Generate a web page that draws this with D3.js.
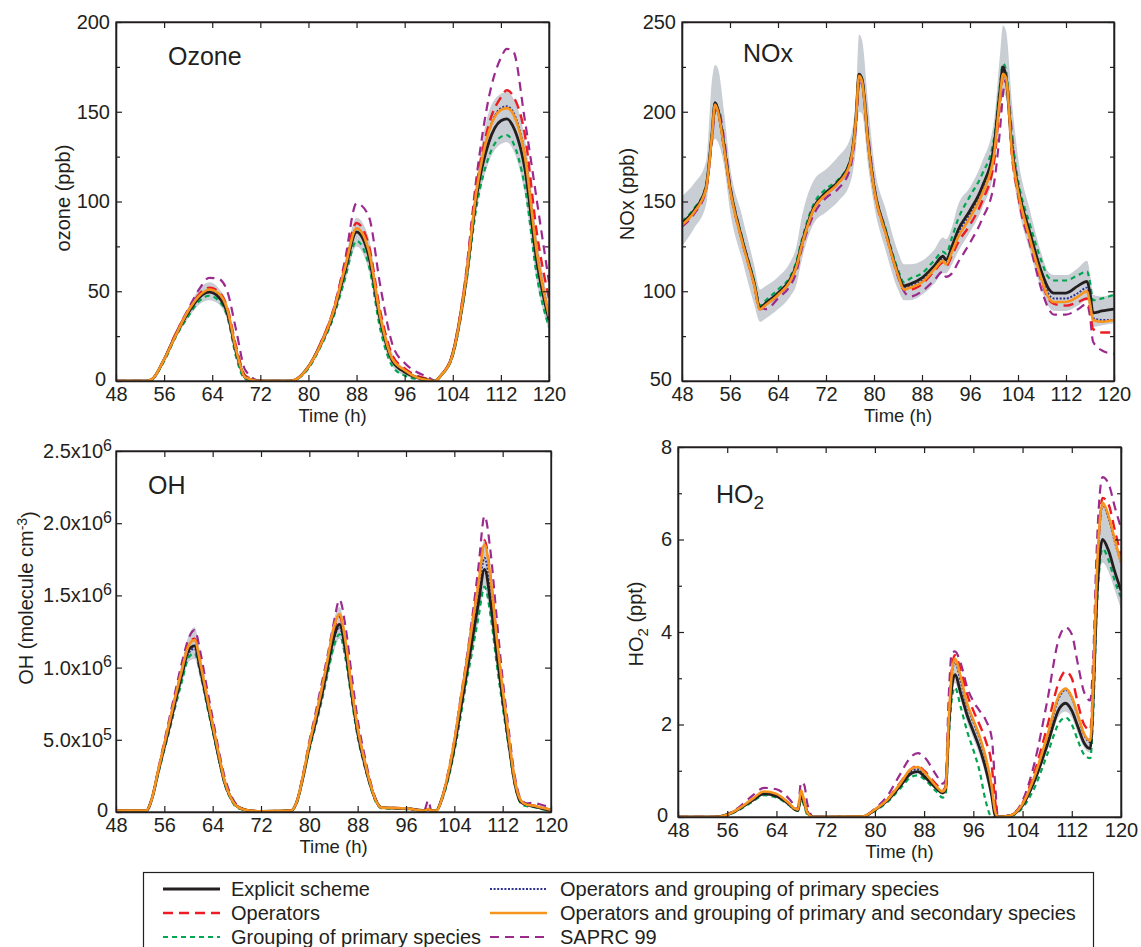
<!DOCTYPE html>
<html>
<head>
<meta charset="utf-8">
<script src="https://cdnjs.cloudflare.com/ajax/libs/d3/7.8.5/d3.min.js"></script>
<style>
  body { margin: 0; background: #fff; }
  svg { font-family: "Liberation Sans", Arial, sans-serif; }
</style>
</head>
<body>
<script>
// ---------------- data ----------------
var xTicks = [48, 56, 64, 72, 80, 88, 96, 104, 112, 120];

// Ozone (ppb)
var o3Times = [48,53,54,56,58,60,62,63.5,65,66.5, 68,69.5,72,77,78,80,82,84,86,88, 90,92,94,96,98,100,101,102,104,106, 108,110,112,113,114,116,118,120];
var o3Explicit = [0,0,1,12,26,38,47,49.5,47,38, 16,2,0,0,1,8,20,36,60,83, 70,33,11,5,2,0.5,0,3,15,51, 104,133,145,146,142,118,66,34];
var o3Operators = [0,0,1,12,27,39,49,52,50,41, 19,3,0,0,1,8,21,38,64,88, 76,38,14,7,3,1,0,3,16,54, 110,143,158,162,159,137,82,46];
var o3Grouping = [0,0,1,11,25,36,45,47.5,45,36, 13,1,0,0,1,7,19,34,56,78, 65,28,8,3,1,0,0,3,14,49, 98,125,136,137,133,108,58,30];
var o3OpGroup = [0,0,1,12,26,38,48,50,48,39, 17,2,0,0,1,8,20,37,62,85, 73,35,12,6,2,0.5,0,3,15,52, 107,139,152,153,150,126,72,37];
var o3OpGroupSec = [0,0,1,12,26,39,48,51,49,40, 17,2,0,0,1,8,20,37,62,85, 73,35,12,6,2,0.5,0,3,15,52, 107,139,151,152,149,125,71,36];
var o3Saprc = [0,0,1,12,27,40,52,57.5,57,50, 28,6,0,0,1,8,21,38,66,99, 92,52,20,10,5,2,0,3,16,55, 115,158,180,185,184,145,100,55];
var o3BandLo = [0,0,1,11,24,35,43,45,43,34, 12,1,0,0,1,7,18,33,54,75, 62,27,8,3,1,0,0,3,14,47, 96,122,132,133,129,104,55,28];
var o3BandHi = [0,0,1,13,28,41,52,55,52,43, 20,3,0,0,1,9,22,40,66,91, 80,40,15,7,3,1,0,3,17,56, 114,150,160,161,158,135,80,42];

// NOx (ppb)
var noxTimes = [48,50,52,53,53.5,54,55,56,58,60, 61,62,64,66,67,68,70,72,74,76, 77,77.5,78,79,80,82,84,85,86,88, 90,91.5,92,93,94,96,98,100,101,101.5, 102,103,104,106,108,109,110,112,114,115.5, 116,116.5,118,120];
var noxExplicit = [138,145,158,188,205,201,181,158,129,105, 91,93.5,99,106.5,114,127,147,155,161,172, 197,221,218,184,158,132.5,110,103,104,107.5, 114,119.5,117.5,125,134,145,158,181,212,225, 219.5,179,158,132.5,110,102,99,99,103,105.5, 99,88,89,90];
var noxOperators = [137,144,157,187,204,200,180,157,128,104, 90,92.5,98,105.5,113,126,146,154,160,171, 196,220,217,183,157,131.5,109,101,101,104, 111,116,114,120,127,137,150,172,205,220, 218,175,154,128,105,96,93,92,94,96, 90,79,77,77];
var noxGrouping = [139,146,159,189,205,202,182,159,130,106, 92,95,101,108,116,129,149,157,162,173, 198,221,219,185,159,134,112,105,107,110, 117,122,121,130,140,153,165,185,215,227, 223,185,162,137,116,108,106,106,109,111, 105,95,96,98];
var noxOpGroup = [138,145,158,188,205,201,181,158,129,105, 91,93.5,99,106.5,114,127,147,155,161,172, 197,221,218,184,158,132.5,110,102,103,106, 113,118,116,123,132,143,156,178,210,223, 219,178,157,131,108,99,96,96,99,102, 95,85,84,84];
var noxOpGroupSec = [137,144,157,187,204,200,180,157,128,104, 90,92.5,98,105.5,113,126,146,154,160,171, 196,220,217,183,157,131.5,109,101,102,105, 112,117,115,122,130,141,154,176,208,221, 219,177,156,129,106,97,94,94,97,100, 93,84,83,84];
var noxSaprc = [136,143,156,184,200,202,185,160,130,105, 92,90,96,103,110,124,143,152,157,168, 192,215,218,188,160,133,108,100,97,100, 106,111,108,110,116,127,140,160,190,210, 218,188,155,126,100,91,87,87,90,93, 86,72,67,65];
var noxBandLo = [125,135,148,180,185,183,170,145,118,93, 83,85,90,97,103,118,138,144,150,160, 180,200,199,170,148,122,101,95,95,98, 104,110,110,115,122,133,146,168,198,210, 208,170,148,122,100,92,89,89,92,95, 89,80,81,82];
var noxBandHi = [153,160,172,218,226,224,200,170,142,115, 101,103,108,116,124,142,162,168,175,185, 210,243,240,205,172,145,122,115,115,117, 123,130,129,136,148,158,172,195,232,248, 245,205,175,145,120,111,109,109,113,117, 110,98,97,99];

// OH (10^6 molecule cm-3)
var ohTimes = [48,53,54,55,56,57,58,59,60,61, 62,63,64,65,66,67,68,70,72,77, 78,79,80,81,82,83,84,85,86,87, 88,89,90,91,92,96,99,99.7,100.2,101, 102,103,104,105,106,107,108,109,110,111, 112,113,114,115,116,117,118,120];
var ohExplicit = [0.01,0.01,0.1,0.28,0.45,0.62,0.8,0.97,1.12,1.15, 0.98,0.78,0.58,0.38,0.2,0.1,0.04,0.01,0.005,0.01, 0.08,0.25,0.45,0.62,0.8,1.0,1.2,1.3,1.12,0.82, 0.55,0.36,0.2,0.08,0.03,0.025,0.01,0.02,0.01,0.01, 0.1,0.25,0.45,0.7,0.95,1.2,1.45,1.68,1.45,1.1, 0.78,0.48,0.2,0.07,0.05,0.04,0.03,0.01];
var ohOperators = [0.01,0.01,0.1,0.29,0.47,0.65,0.83,1.0,1.16,1.2, 1.03,0.82,0.61,0.4,0.21,0.1,0.04,0.01,0.005,0.01, 0.08,0.26,0.47,0.65,0.84,1.04,1.25,1.35,1.17,0.86, 0.58,0.38,0.21,0.08,0.03,0.025,0.01,0.02,0.01,0.01, 0.1,0.27,0.49,0.76,1.03,1.32,1.6,1.88,1.63,1.22, 0.86,0.52,0.22,0.08,0.05,0.045,0.035,0.015];
var ohGrouping = [0.01,0.01,0.1,0.27,0.43,0.59,0.76,0.92,1.07,1.1, 0.95,0.75,0.56,0.37,0.19,0.09,0.03,0.01,0.005,0.01, 0.07,0.24,0.43,0.59,0.76,0.95,1.14,1.23,1.06,0.78, 0.52,0.34,0.19,0.07,0.025,0.02,0.01,0.015,0.01,0.01, 0.09,0.23,0.42,0.65,0.9,1.12,1.35,1.56,1.36,1.03, 0.73,0.45,0.19,0.06,0.04,0.035,0.025,0.01];
var ohOpGroup = [0.01,0.01,0.1,0.28,0.45,0.61,0.79,0.95,1.1,1.13, 0.97,0.77,0.57,0.37,0.2,0.1,0.04,0.01,0.005,0.01, 0.08,0.25,0.45,0.61,0.79,0.99,1.19,1.28,1.1,0.81, 0.54,0.35,0.2,0.08,0.03,0.025,0.01,0.02,0.01,0.01, 0.1,0.26,0.47,0.73,0.98,1.25,1.52,1.76,1.53,1.15, 0.82,0.5,0.21,0.07,0.05,0.04,0.03,0.01];
var ohOpGroupSec = [0.01,0.01,0.1,0.29,0.47,0.65,0.83,1.0,1.15,1.19, 1.02,0.81,0.6,0.4,0.21,0.1,0.04,0.01,0.005,0.01, 0.08,0.26,0.47,0.65,0.84,1.05,1.27,1.37,1.18,0.86, 0.58,0.38,0.21,0.08,0.03,0.025,0.01,0.02,0.01,0.01, 0.1,0.27,0.49,0.76,1.02,1.31,1.58,1.85,1.62,1.21, 0.85,0.52,0.22,0.08,0.05,0.045,0.035,0.015];
var ohSaprc = [0.01,0.01,0.1,0.3,0.49,0.68,0.87,1.05,1.2,1.26, 1.1,0.87,0.65,0.43,0.24,0.12,0.05,0.01,0.005,0.01, 0.08,0.27,0.49,0.68,0.88,1.08,1.3,1.47,1.28,0.95, 0.64,0.42,0.23,0.09,0.03,0.025,0.01,0.08,0.01,0.01, 0.1,0.28,0.5,0.78,1.05,1.36,1.7,2.05,1.8,1.35, 0.92,0.57,0.25,0.09,0.06,0.065,0.055,0.03];
var ohBandLo = [0.01,0.01,0.09,0.26,0.42,0.57,0.74,0.9,1.04,1.06, 0.91,0.72,0.54,0.35,0.18,0.09,0.03,0.01,0.005,0.01, 0.07,0.23,0.42,0.57,0.74,0.92,1.1,1.2,1.03,0.76, 0.5,0.33,0.18,0.07,0.025,0.02,0.01,0.015,0.01,0.01, 0.09,0.23,0.42,0.65,0.88,1.1,1.33,1.55,1.33,1.0, 0.72,0.44,0.18,0.06,0.04,0.035,0.025,0.01];
var ohBandHi = [0.01,0.01,0.11,0.3,0.5,0.68,0.87,1.05,1.22,1.28, 1.09,0.86,0.64,0.42,0.22,0.11,0.05,0.01,0.005,0.01, 0.09,0.27,0.49,0.68,0.87,1.08,1.32,1.42,1.23,0.9, 0.6,0.4,0.22,0.09,0.035,0.03,0.015,0.025,0.015,0.01, 0.11,0.28,0.5,0.77,1.04,1.32,1.6,1.9,1.62,1.2, 0.86,0.53,0.22,0.08,0.06,0.05,0.04,0.02];

// HO2 (ppt)
var ho2Times = [48,54,56,58,60,62,64,66,67,67.5, 68,68.5,69,70,72,78,80,82,84,86, 87,88,90,91,91.5,92,92.5,93,94,95, 96,97,98,99,99.5,100,102,104,106,108, 110,111,112,113,114,115,115.5,116,116.5,117, 118,119,120];
var ho2Explicit = [0,0,0.05,0.18,0.35,0.5,0.45,0.28,0.16,0.14, 0.45,0.3,0.1,0,0,0.01,0.15,0.35,0.65,0.95, 0.98,0.88,0.62,0.52,0.6,1.9,2.8,3.08,2.65,2.2, 1.85,1.5,1.05,0.45,0.05,0,0.03,0.25,0.8,1.55, 2.35,2.46,2.3,1.95,1.6,1.48,2.6,4.5,5.6,6.0, 5.75,5.3,4.9];
var ho2Operators = [0,0,0.05,0.19,0.37,0.53,0.48,0.3,0.18,0.16, 0.5,0.35,0.12,0,0,0.01,0.16,0.38,0.72,1.05, 1.1,1.0,0.7,0.58,0.66,2.1,3.2,3.5,3.15,2.65, 2.3,2.0,1.65,1.1,0.4,0,0.03,0.3,1.0,1.95, 2.95,3.15,3.0,2.45,2.0,1.88,3.0,5.0,6.3,6.9, 6.75,6.2,5.65];
var ho2Grouping = [0,0,0.04,0.16,0.32,0.47,0.42,0.26,0.15,0.13, 0.38,0.25,0.05,0,0,0.01,0.13,0.32,0.6,0.87, 0.9,0.82,0.55,0.42,0.5,1.7,2.55,2.8,2.35,1.85, 1.45,1.0,0.35,0,0,0,0.02,0.2,0.65,1.35, 2.05,2.15,2.0,1.65,1.35,1.27,2.3,4.3,5.4,5.8, 5.55,5.1,4.75];
var ho2OpGroup = [0,0,0.05,0.18,0.36,0.52,0.47,0.29,0.17,0.15, 0.5,0.33,0.1,0,0,0.01,0.15,0.36,0.68,1.0, 1.03,0.93,0.64,0.53,0.61,2.05,3.05,3.35,2.9,2.4, 2.05,1.7,1.25,0.6,0.12,0,0.03,0.27,0.88,1.72, 2.6,2.75,2.58,2.18,1.78,1.62,2.85,4.9,6.2,6.75, 6.45,5.95,5.5];
var ho2OpGroupSec = [0,0,0.05,0.19,0.38,0.55,0.5,0.3,0.18,0.16, 0.58,0.35,0.1,0,0,0.01,0.16,0.37,0.7,1.05, 1.08,0.97,0.66,0.55,0.63,2.1,3.1,3.42,3.0,2.45, 2.1,1.75,1.3,0.65,0.15,0,0.03,0.28,0.9,1.75, 2.65,2.78,2.6,2.2,1.8,1.65,2.9,5.0,6.3,6.8, 6.5,6.0,5.5];
var ho2Saprc = [0,0,0.06,0.22,0.45,0.63,0.6,0.4,0.25,0.2, 0.75,0.7,0.3,0,0,0.01,0.18,0.45,0.9,1.32, 1.38,1.3,0.9,0.72,0.8,2.6,3.55,3.58,3.3,2.8, 2.5,2.3,2.1,1.7,0.8,0,0.04,0.35,1.2,2.5, 3.9,4.1,3.95,3.3,2.7,2.52,3.5,5.6,6.9,7.35, 7.2,6.7,6.25];
var ho2BandLo = [0,0,0.04,0.17,0.33,0.47,0.42,0.26,0.15,0.13, 0.42,0.28,0.08,0,0,0.01,0.14,0.33,0.62,0.9, 0.93,0.84,0.58,0.48,0.55,1.8,2.65,2.9,2.5,2.05, 1.7,1.35,0.9,0.35,0.03,0,0.02,0.23,0.75,1.45, 2.2,2.28,2.15,1.8,1.5,1.4,2.45,4.2,5.2,5.5, 5.3,4.9,4.5];
var ho2BandHi = [0,0,0.05,0.2,0.38,0.55,0.5,0.31,0.18,0.16, 0.55,0.35,0.12,0,0,0.01,0.16,0.38,0.7,1.05, 1.08,0.98,0.67,0.56,0.64,2.1,3.15,3.45,3.05,2.5, 2.15,1.8,1.35,0.7,0.18,0,0.03,0.29,0.92,1.78, 2.68,2.8,2.62,2.22,1.82,1.7,2.95,5.0,6.3,6.8, 6.55,6.05,5.6];

// ---------------- styles ----------------
var schemes = [
  { key: "saprc",     name: "SAPRC 99", color: "#9b2a8f", width: 2.2, dash: "9,6" },
  { key: "operators", name: "Operators", color: "#ed1c24", width: 2.4, dash: "10,6" },
  { key: "grouping",  name: "Grouping of primary species", color: "#00a651", width: 2.2, dash: "5,4" },
  { key: "opGroup",   name: "Operators and grouping of primary species", color: "#2e3192", width: 2, dash: "2,1.6" },
  { key: "explicit",  name: "Explicit scheme", color: "#231f20", width: 2.8, dash: null },
  { key: "opGroupSec", name: "Operators and grouping of primary and secondary species", color: "#f7941d", width: 2.6, dash: null }
];
var schemeByKey = {};
schemes.forEach(function(s) { schemeByKey[s.key] = s; });

var svg = d3.select("body").append("svg")
  .attr("width", 1141)
  .attr("height", 947);

var tickFont = 20;

function drawPanel(p) {
  var x = d3.scaleLinear().domain([48, 120]).range([p.left, p.right]);
  var y = d3.scaleLinear().domain(p.yDomain).range([p.bottom, p.top]);

  var clipId = "clip-" + p.id;
  svg.append("clipPath").attr("id", clipId)
    .append("rect")
    .attr("x", p.left).attr("y", p.top)
    .attr("width", p.right - p.left).attr("height", p.bottom - p.top);

  var plot = svg.append("g").attr("clip-path", "url(#" + clipId + ")");

  // grey band
  var area = d3.area()
    .x(function(d, i) { return x(p.times[i]); })
    .y0(function(d, i) { return y(p.bandLo[i]); })
    .y1(function(d) { return y(d); })
    .curve(d3.curveMonotoneX);
  plot.append("path").datum(p.bandHi)
    .attr("d", area)
    .attr("fill", "#c9cdd4");

  var line = d3.line()
    .x(function(d, i) { return x(p.times[i]); })
    .y(function(d) { return y(d); })
    .curve(d3.curveMonotoneX);

  schemes.forEach(function(s) {
    plot.append("path").datum(p.series[s.key])
      .attr("d", line)
      .attr("fill", "none")
      .attr("stroke", s.color)
      .attr("stroke-width", s.width)
      .attr("stroke-dasharray", s.dash)
      .attr("stroke-linejoin", "round");
  });

  // axes
  var bottom = svg.append("g")
    .attr("transform", "translate(0," + p.bottom + ")")
    .call(d3.axisBottom(x).tickValues(xTicks).tickSizeInner(-6).tickSizeOuter(0).tickPadding(6));
  svg.append("g")
    .attr("transform", "translate(0," + p.top + ")")
    .call(d3.axisTop(x).tickValues(xTicks).tickSizeInner(-6).tickSizeOuter(0).tickFormat(""));

  var left = svg.append("g")
    .attr("transform", "translate(" + p.left + ",0)")
    .call(d3.axisLeft(y).tickValues(p.yTicks).tickSizeInner(-6).tickSizeOuter(0)
      .tickPadding(p.yPadding || 6)
      .tickFormat(d3.format("d")));
  svg.append("g")
    .attr("transform", "translate(" + p.right + ",0)")
    .call(d3.axisRight(y).tickValues(p.yTicks).tickSizeInner(-6).tickSizeOuter(0).tickFormat(""));

  if (p.yMinor) {
    svg.append("g")
      .attr("transform", "translate(" + p.left + ",0)")
      .call(d3.axisLeft(y).tickValues(p.yMinor).tickSizeInner(-4).tickSizeOuter(0).tickFormat(""));
    svg.append("g")
      .attr("transform", "translate(" + p.right + ",0)")
      .call(d3.axisRight(y).tickValues(p.yMinor).tickSizeInner(-4).tickSizeOuter(0).tickFormat(""));
  }

  svg.selectAll(".domain").attr("stroke", "#231f20").attr("stroke-width", 1.3);
  svg.selectAll(".tick line").attr("stroke", "#231f20").attr("stroke-width", 1.2);

  [bottom, left].forEach(function(a) {
    a.attr("font-family", null).attr("font-size", null);
    a.selectAll("text").attr("font-size", tickFont).attr("fill", "#231f20");
  });

  if (p.sciLabels) {
    left.selectAll(".tick text").each(function(d) {
      var t = d3.select(this);
      t.text(null);
      if (d === 0) { t.text("0"); return; }
      var exp = Math.floor(Math.log10(d * 1e6) + 1e-9);
      var mant = (d * 1e6 / Math.pow(10, exp)).toFixed(1);
      t.append("tspan").text(mant + "x10");
      t.append("tspan").attr("dy", "-0.45em").attr("font-size", 16).text(exp);
    });
  }

  // the lowest y label sits in the corner next to "48": nudge it left a touch
  left.selectAll(".tick text")
    .filter(function(d) { return d === p.yDomain[0]; })
    .attr("dx", -4)
    .attr("dy", "0.2em");

  // frame
  svg.append("rect")
    .attr("x", p.left).attr("y", p.top)
    .attr("width", p.right - p.left).attr("height", p.bottom - p.top)
    .attr("fill", "none").attr("stroke", "#231f20").attr("stroke-width", 1.3);

  // x title
  svg.append("text")
    .attr("x", (p.left + p.right) / 2)
    .attr("y", p.bottom + 41)
    .attr("text-anchor", "middle")
    .attr("font-size", 18.5)
    .attr("fill", "#231f20")
    .text("Time (h)");

  // y title
  var yt = svg.append("text")
    .attr("transform", "translate(" + p.yTitleX + "," + p.yTitleY + ") rotate(-90)")
    .attr("text-anchor", "middle")
    .attr("font-size", 20)
    .attr("fill", "#231f20");
  p.yTitle(yt);

  // panel label
  var pl = svg.append("text")
    .attr("x", p.labelX).attr("y", p.labelY)
    .attr("font-size", 25)
    .attr("fill", "#231f20");
  p.label(pl);
}

drawPanel({
  id: "o3", left: 116, right: 549, top: 22, bottom: 381,
  yDomain: [0, 200], yTicks: [0, 50, 100, 150, 200], yMinor: [25, 75, 125, 175],
  times: o3Times, bandLo: o3BandLo, bandHi: o3BandHi,
  series: { explicit: o3Explicit, operators: o3Operators, grouping: o3Grouping,
            opGroup: o3OpGroup, opGroupSec: o3OpGroupSec, saprc: o3Saprc },
  yTitleX: 70, yTitleY: 198,
  yTitle: function(t) { t.text("ozone (ppb)"); },
  labelX: 168, labelY: 65,
  label: function(t) { t.text("Ozone"); }
});

drawPanel({
  id: "nox", left: 682, right: 1114, top: 22, bottom: 381,
  yDomain: [50, 250], yTicks: [50, 100, 150, 200, 250], yMinor: [75, 125, 175, 225],
  times: noxTimes, bandLo: noxBandLo, bandHi: noxBandHi,
  series: { explicit: noxExplicit, operators: noxOperators, grouping: noxGrouping,
            opGroup: noxOpGroup, opGroupSec: noxOpGroupSec, saprc: noxSaprc },
  yTitleX: 634, yTitleY: 194,
  yTitle: function(t) { t.text("NOx (ppb)"); },
  labelX: 743, labelY: 62,
  label: function(t) { t.text("NOx"); }
});

drawPanel({
  id: "oh", left: 116, right: 551, top: 451, bottom: 812,
  yDomain: [0, 2.5], yTicks: [0, 0.5, 1, 1.5, 2, 2.5], sciLabels: true, yPadding: 4,
  times: ohTimes, bandLo: ohBandLo, bandHi: ohBandHi,
  series: { explicit: ohExplicit, operators: ohOperators, grouping: ohGrouping,
            opGroup: ohOpGroup, opGroupSec: ohOpGroupSec, saprc: ohSaprc },
  yTitleX: 33, yTitleY: 598,
  yTitle: function(t) {
    t.append("tspan").text("OH (molecule cm");
    t.append("tspan").attr("dy", "-0.45em").attr("font-size", 14).text("-3");
    t.append("tspan").attr("dy", "0.45em").text(")");
  },
  labelX: 148, labelY: 494,
  label: function(t) { t.text("OH"); }
});

drawPanel({
  id: "ho2", left: 678, right: 1121, top: 447, bottom: 817,
  yDomain: [0, 8], yTicks: [0, 2, 4, 6, 8], yMinor: [1, 3, 5, 7],
  times: ho2Times, bandLo: ho2BandLo, bandHi: ho2BandHi,
  series: { explicit: ho2Explicit, operators: ho2Operators, grouping: ho2Grouping,
            opGroup: ho2OpGroup, opGroupSec: ho2OpGroupSec, saprc: ho2Saprc },
  yTitleX: 643, yTitleY: 624,
  yTitle: function(t) {
    t.append("tspan").text("HO");
    t.append("tspan").attr("dy", "0.3em").attr("font-size", 15).text("2");
    t.append("tspan").attr("dy", "-0.3em").text(" (ppt)");
  },
  labelX: 716, labelY: 503,
  label: function(t) {
    t.append("tspan").text("HO");
    t.append("tspan").attr("dy", "0.3em").attr("font-size", 19).text("2");
  }
});

// ---------------- legend ----------------
var legendCols = [
  ["explicit", "operators", "grouping"],
  ["opGroup", "opGroupSec", "saprc"]
];
var legend = svg.append("g");
legend.append("rect")
  .attr("x", 143.5).attr("y", 872.5)
  .attr("width", 950).attr("height", 90)
  .attr("fill", "#fff").attr("stroke", "#231f20").attr("stroke-width", 1.2);

var colLineX = [163, 490];
var colTextX = [231, 560];
var rowY = [889, 913, 937];
legendCols.forEach(function(col, ci) {
  col.forEach(function(key, ri) {
    var s = schemeByKey[key];
    legend.append("line")
      .attr("x1", colLineX[ci]).attr("x2", colLineX[ci] + 57)
      .attr("y1", rowY[ri]).attr("y2", rowY[ri])
      .attr("stroke", s.color)
      .attr("stroke-width", s.width)
      .attr("stroke-dasharray", s.dash);
    legend.append("text")
      .attr("x", colTextX[ci]).attr("y", rowY[ri])
      .attr("dy", "0.35em")
      .attr("font-size", 20)
      .attr("fill", "#231f20")
      .text(s.name);
  });
});
</script>
</body>
</html>
